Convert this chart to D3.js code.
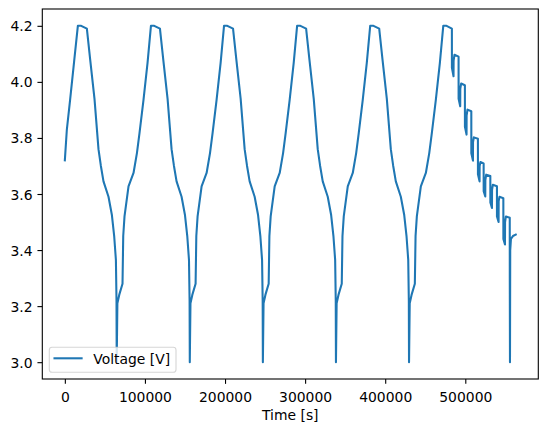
<!DOCTYPE html>
<html><head><meta charset="utf-8">
<script src="https://cdn.jsdelivr.net/npm/d3@7"></script>
<style>
body{margin:0;background:#fff}
svg{display:block}
text{font-family:"DejaVu Sans",sans-serif}
</style>
</head><body>
<svg id="chart" width="547" height="432"></svg>
<script>
const seriesName = "Voltage [V]";
const xLabel = "Time [s]";
const xTicks = [0, 100000, 200000, 300000, 400000, 500000];
const yTicks = [3.0, 3.2, 3.4, 3.6, 3.8, 4.0, 4.2];

const timeS = [
  // cycle 1
  0, 2500, 6600, 11600, 16250, 20400, 27500, 31600, 37000, 42000, 45000, 48250, 54500, 58750, 61600, 63750, 64500, 64750,
  65600, 67900, 72000, 72900, 74500, 79500, 85750, 90000, 93250, 98250, 103250, 107500,
  // cycle 2
  111650, 118750, 122850, 128250, 133250, 136250, 139500, 145750, 150000, 152850, 155000, 155750, 156000,
  156850, 159150, 163250, 164150, 165750, 170750, 177000, 181250, 184500, 189500, 194500, 198750,
  // cycle 3
  202900, 210000, 214100, 219500, 224500, 227500, 230750, 237000, 241250, 244100, 246250, 247000, 247250,
  248100, 250400, 254500, 255400, 257000, 262000, 268250, 272500, 275750, 280750, 285750, 290000,
  // cycle 4
  294150, 301250, 305350, 310750, 315750, 318750, 322000, 328250, 332500, 335350, 337500, 338250, 338500,
  339350, 341650, 345750, 346650, 348250, 353250, 359500, 363750, 367000, 372000, 377000, 381250,
  // cycle 5
  385400, 392500, 396600, 402000, 407000, 410000, 413250, 419500, 423750, 426600, 428750, 429500, 429750,
  430600, 432900, 437000, 437900, 439500, 444500, 450750, 455000, 458250, 463250, 468250, 472500,
  // cycle 6 with pulses
  476600, 483250,
  483300, 485300, 485400, 486500, 491600,
  491650, 493650, 493750, 494800, 499500,
  499550, 501550, 501650, 502700, 507500,
  507550, 509550, 509650, 510700, 515750,
  515800, 517800, 517900, 518900, 522900,
  522950, 524950, 525050, 526100, 531250,
  531300, 533300, 533400, 534400, 539500,
  539550, 541550, 541650, 542700, 547500,
  547550, 549550, 549650, 550700, 555500,
  555550, 555800, 556100, 557000, 559500, 563000
];

const voltageV = [
  // cycle 1
  3.72, 3.83, 3.937, 4.073, 4.20, 4.20, 4.19, 4.08, 3.94, 3.76, 3.70, 3.645, 3.59, 3.525, 3.45, 3.365, 3.22, 3.00,
  3.21, 3.24, 3.28, 3.45, 3.52, 3.627, 3.675, 3.746, 3.818, 3.937, 4.068, 4.20,
  // cycle 2
  4.20, 4.19, 4.08, 3.94, 3.76, 3.70, 3.645, 3.59, 3.525, 3.45, 3.365, 3.22, 3.00,
  3.21, 3.24, 3.28, 3.45, 3.52, 3.627, 3.675, 3.746, 3.818, 3.937, 4.068, 4.20,
  // cycle 3
  4.20, 4.19, 4.08, 3.94, 3.76, 3.70, 3.645, 3.59, 3.525, 3.45, 3.365, 3.22, 3.00,
  3.21, 3.24, 3.28, 3.45, 3.52, 3.627, 3.675, 3.746, 3.818, 3.937, 4.068, 4.20,
  // cycle 4
  4.20, 4.19, 4.08, 3.94, 3.76, 3.70, 3.645, 3.59, 3.525, 3.45, 3.365, 3.22, 3.00,
  3.21, 3.24, 3.28, 3.45, 3.52, 3.627, 3.675, 3.746, 3.818, 3.937, 4.068, 4.20,
  // cycle 5
  4.20, 4.19, 4.08, 3.94, 3.76, 3.70, 3.645, 3.59, 3.525, 3.45, 3.365, 3.22, 3.00,
  3.21, 3.24, 3.28, 3.45, 3.52, 3.627, 3.675, 3.746, 3.818, 3.937, 4.068, 4.20,
  // cycle 6 with pulses
  4.20, 4.19,
  4.05, 4.02, 4.075, 4.097, 4.09,
  3.94, 3.913, 3.975, 3.994, 3.988,
  3.84, 3.812, 3.88, 3.901, 3.895,
  3.745, 3.719, 3.785, 3.802, 3.797,
  3.67, 3.645, 3.70, 3.714, 3.709,
  3.61, 3.591, 3.65, 3.669, 3.664,
  3.57, 3.55, 3.615, 3.633, 3.628,
  3.52, 3.50, 3.575, 3.59, 3.585,
  3.44, 3.42, 3.50, 3.52, 3.515,
  3.30, 3.00, 3.40, 3.44, 3.45, 3.455
];

const color = "#1f77b4";
const fs = 13.9;
const L = 42.3, R = 538.3, T = 9, B = 379;

const svg = d3.select("#chart");

const [x0, x1] = d3.extent(timeS);
const xr = x1 - x0;
const x = d3.scaleLinear().domain([x0 - 0.05 * xr, x1 + 0.05 * xr]).range([L, R]);
const [y0, y1] = d3.extent(voltageV);
const yr = y1 - y0;
const y = d3.scaleLinear().domain([y0 - 0.05 * yr, y1 + 0.05 * yr]).range([B, T]);

const pts = timeS.map((t, i) => [t, voltageV[i]]);

svg.append("clipPath").attr("id", "clip").append("rect")
  .attr("x", L).attr("y", T).attr("width", R - L).attr("height", B - T);

svg.append("path")
  .datum(pts)
  .attr("clip-path", "url(#clip)")
  .attr("fill", "none")
  .attr("stroke", color)
  .attr("stroke-width", 2.08)
  .attr("stroke-linejoin", "round")
  .attr("stroke-linecap", "square")
  .attr("d", d3.line().x(d => x(d[0])).y(d => y(d[1])));

// axes
const xAxis = svg.append("g").attr("transform", `translate(0,${B})`)
  .call(d3.axisBottom(x).tickValues(xTicks).tickFormat(d3.format("d")).tickSize(4.86).tickPadding(4.86).tickSizeOuter(0));
const yAxis = svg.append("g").attr("transform", `translate(${L},0)`)
  .call(d3.axisLeft(y).tickValues(yTicks).tickFormat(d3.format(".1f")).tickSize(4.86).tickPadding(4.86).tickSizeOuter(0));

[xAxis, yAxis].forEach(g => {
  g.select(".domain").remove();
  g.selectAll(".tick line").attr("stroke", "#000").attr("stroke-width", 1.1);
  g.selectAll(".tick text").attr("fill", "#000").style("font-size", fs + "px").style("font-family", "DejaVu Sans");
});
xAxis.selectAll(".tick text").attr("y", 22.6).attr("dy", null);
yAxis.selectAll(".tick text").attr("dy", "0.36em");

// frame
svg.append("rect").attr("x", L).attr("y", T).attr("width", R - L).attr("height", B - T)
  .attr("fill", "none").attr("stroke", "#000").attr("stroke-width", 1.1);

// x label
svg.append("text").attr("x", (L + R) / 2).attr("y", 419.5)
  .attr("text-anchor", "middle").style("font-size", fs + "px").attr("fill", "#000").text(xLabel);

// legend
const lg = svg.append("g");
lg.append("rect").attr("x", 49.3).attr("y", 347.3).attr("width", 126.7).attr("height", 25)
  .attr("rx", 2.8).attr("fill", "#fff").attr("fill-opacity", 0.8)
  .attr("stroke", "#cccccc").attr("stroke-opacity", 0.8).attr("stroke-width", 1.1);
lg.append("line").attr("x1", 54.5).attr("x2", 81.6).attr("y1", 358.3).attr("y2", 358.3)
  .attr("stroke", color).attr("stroke-width", 2.08).attr("stroke-linecap", "square");
lg.append("text").attr("x", 93.3).attr("y", 364).style("font-size", fs + "px").attr("fill", "#000").text(seriesName);
</script>
</body></html>
